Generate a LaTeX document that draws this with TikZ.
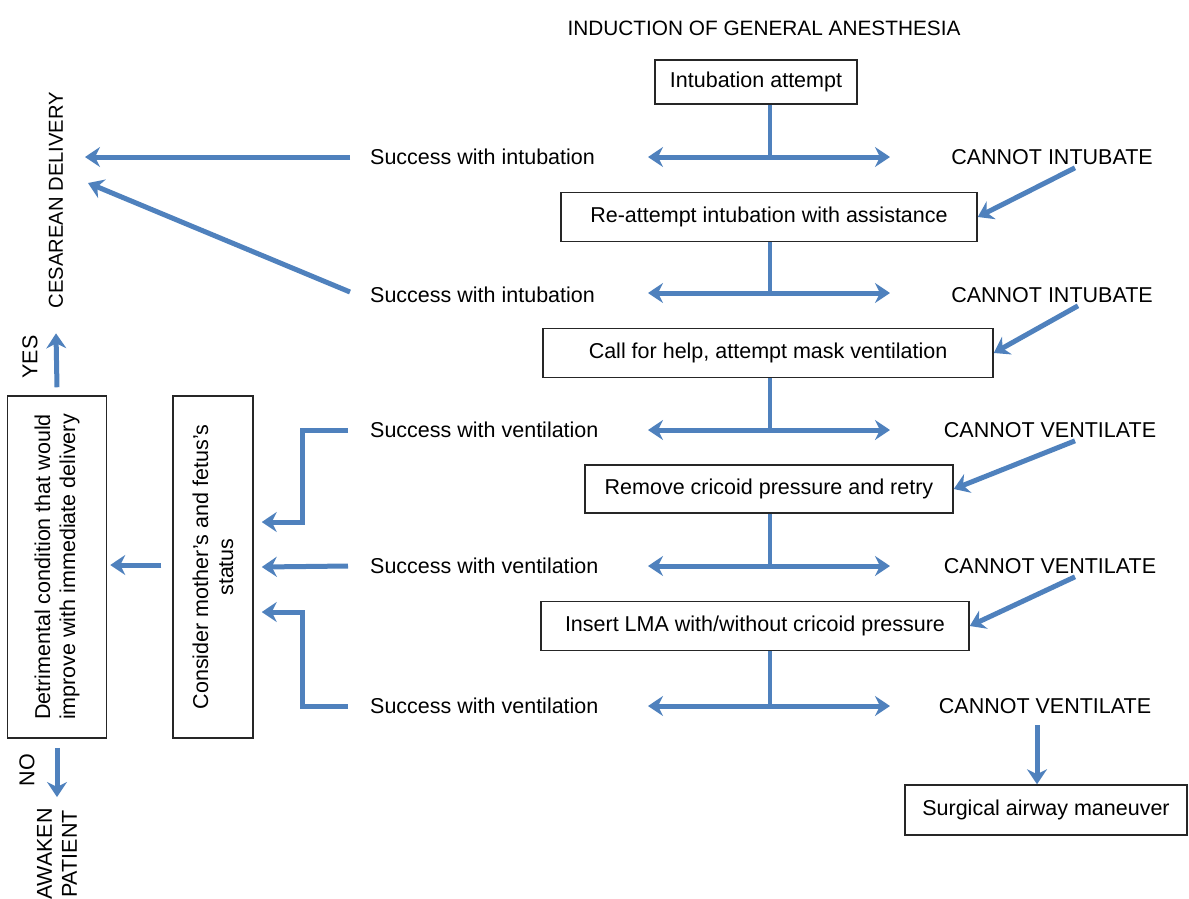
\documentclass[tikz,border=0pt]{standalone}
\usepackage{fontspec}
\setmainfont{Liberation Sans}
\usetikzlibrary{arrows.meta, positioning}

\definecolor{flowblue}{RGB}{79,129,189}

\tikzset{
	flow/.style={draw=flowblue, line width=5pt, -{Stealth[length=15pt, width=20pt, inset=5pt]}},
	fork/.style={draw=flowblue, line width=5pt, {Stealth[length=15pt, width=20pt, inset=5pt]}-{Stealth[length=15pt, width=20pt, inset=5pt]}},
	stem/.style={draw=flowblue, line width=4pt},
	stepbox/.style={draw=black!85, line width=1.5pt, fill=white, inner sep=0pt, minimum height=46pt},
	label/.style={inner sep=0pt}
}

\begin{document}
\begin{tikzpicture}[x=1pt, y=-1pt, font=\fontsize{21.5}{25}\selectfont]
		\useasboundingbox (0,0) rectangle (1189,898);

		\node [label, font=\fontsize{20.8}{24}\selectfont] (title) at (764,28) {INDUCTION OF GENERAL ANESTHESIA};

		% right hand column
		\node [stepbox, minimum width=202pt, minimum height=44pt] (intub) at (756,82) {Intubation attempt};
		\node [stepbox, minimum width=416pt, minimum height=49pt] (reatt) at (769,217) {Re-attempt intubation with assistance};
		\node [stepbox, minimum width=450pt, minimum height=49pt] (mask) at (768,353) {Call for help, attempt mask ventilation};
		\node [stepbox, minimum width=368pt, minimum height=48pt] (cric) at (769,489) {Remove cricoid pressure and retry};
		\node [stepbox, minimum width=428pt, minimum height=49pt] (lma) at (755,626) {Insert LMA with/without cricoid pressure};
		\node [stepbox, minimum width=282pt, minimum height=50pt] (surg) at (1046,810) {Surgical airway maneuver};

		\node [label, anchor=west] (succA) at (370,157) {Success with intubation};
		\node [label, anchor=west] (succB) at (370,295) {Success with intubation};
		\node [label, anchor=west] (succC) at (370,430) {Success with ventilation};
		\node [label, anchor=west] (succD) at (370,566) {Success with ventilation};
		\node [label, anchor=west] (succE) at (370,706) {Success with ventilation};

		\node [label] (failA) at (1052,157) {CANNOT INTUBATE};
		\node [label] (failB) at (1052,295) {CANNOT INTUBATE};
		\node [label] (failC) at (1050,430) {CANNOT VENTILATE};
		\node [label] (failD) at (1050,566) {CANNOT VENTILATE};
		\node [label] (failE) at (1045,706) {CANNOT VENTILATE};

		% forks below each box
		\foreach \stp/\y/\n in {intub/157/A, reatt/293/B, mask/430/C, cric/566/D, lma/706/E}
		{
			\coordinate (mid\n) at (770,\y);
			\coordinate (lft\n) at (648,\y);
			\coordinate (rgt\n) at (890,\y);
			\draw [stem] (\stp.south -| mid\n) -- (mid\n);
			\draw [fork] (lft\n) -- (rgt\n);
		}

		% cannot -> next step
		\draw [flow] ([xshift=23pt, yshift=-3pt]failA.south) -- (reatt.east);
		\draw [flow] ([xshift=26pt, yshift=-3pt]failB.south) -- (mask.east);
		\draw [flow] ([xshift=25pt, yshift=-3pt]failC.south) -- (cric.east);
		\draw [flow] ([xshift=25pt, yshift=-3pt]failD.south) -- (lma.east);
		\coordinate (drop) at (1037,725);
		\draw [flow] (drop) -- (drop |- surg.north);

		% left hand column
		\node [stepbox, rotate=90, minimum width=342pt, minimum height=80pt, align=center] (status) at (213,567)
			{Consider mother's and fetus's\\status};
		\node [stepbox, rotate=90, minimum width=342pt, minimum height=99pt, align=center] (detr) at (57,567)
			{Detrimental condition that would\\improve with immediate delivery};

		\node [label, rotate=90, font=\fontsize{20.2}{24}\selectfont] (ces) at (56,200) {CESAREAN DELIVERY};
		\node [label, rotate=90] (yes) at (30,357) {YES};
		\node [label, rotate=90] (no) at (27,770) {NO};
		\node [label, rotate=90, anchor=east, align=center] (awake) at (57,808) {AWAKEN\\PATIENT};

		\coordinate (cesA) at (85,157);
		\coordinate (cesB) at (88,183);
		\draw [flow] ([xshift=-20pt]succA.west) -- (cesA);
		\draw [flow] ([xshift=-20pt, yshift=3pt]succB.west) -- (cesB);

		\coordinate (bendC) at (302,430);
		\coordinate (bendE) at (302,706);
		\draw [flow] ([xshift=-22pt]succC.west) -- (bendC) |- ([xshift=8pt, yshift=45pt]status.south);
		\draw [flow] ([xshift=-22pt]succD.west) -- ([xshift=8pt]status.south);
		\draw [flow] ([xshift=-22pt]succE.west) -- (bendE) |- ([xshift=8pt, yshift=-45pt]status.south);

		\draw [flow] ([xshift=-11pt, yshift=2pt]status.north) -- ([xshift=3pt, yshift=2pt]detr.south);
		\draw [flow] ([yshift=8pt]detr.east) -- ([yshift=-25pt]ces.west);
		\draw [flow] ([yshift=-9pt]detr.west) -- ([yshift=11pt]awake.east);
	\end{tikzpicture}
\end{document}
